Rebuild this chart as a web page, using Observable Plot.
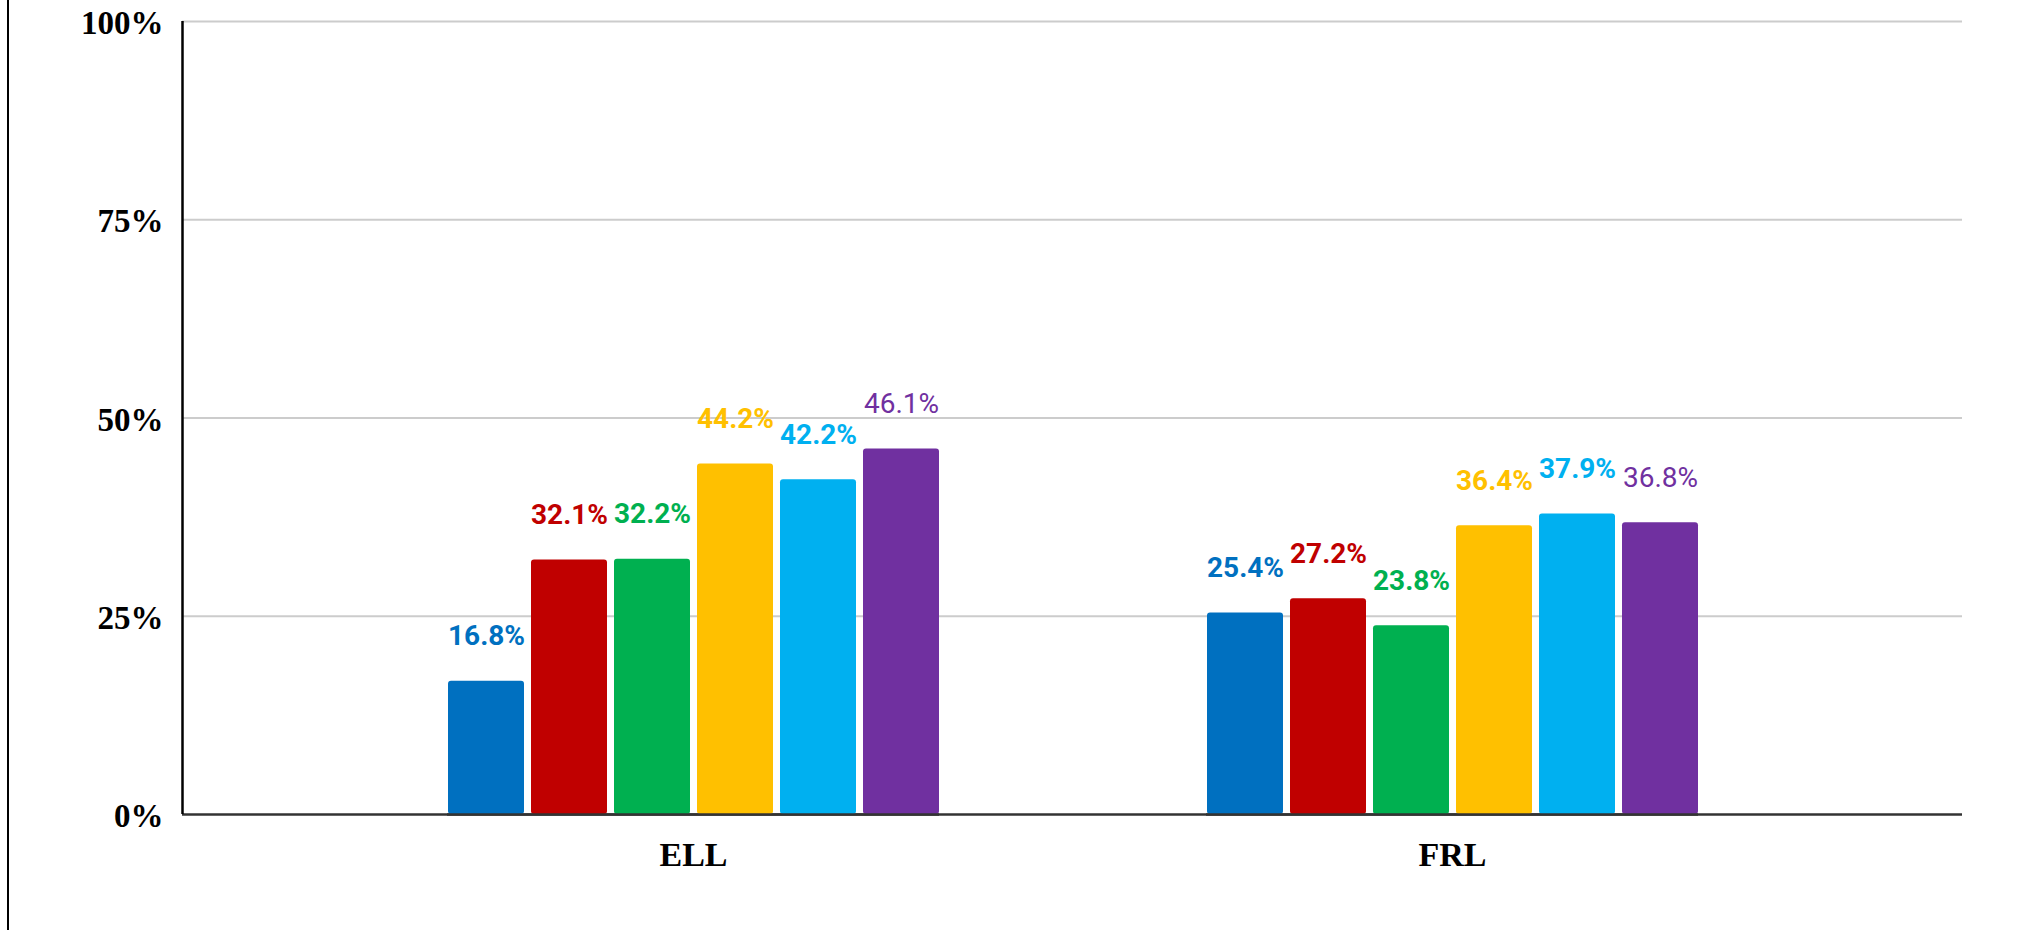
<!DOCTYPE html>
<html>
<head>
<meta charset="utf-8">
<script src="https://cdn.jsdelivr.net/npm/d3@7"></script>
<script src="https://cdn.jsdelivr.net/npm/@observablehq/plot@0.6"></script>
<style>
  html, body { margin: 0; padding: 0; background: #fff; }
  #wrap { position: relative; width: 2023px; height: 930px; overflow: hidden; background: #fff; }
  #wrap svg { position: absolute; left: 0; top: 0; display: block; }
  #edge { position: absolute; left: 7px; top: 0; width: 2px; height: 930px; background: #000; }
</style>
</head>
<body>
<div id="wrap"><div id="edge"></div></div>
<script>
const groups = ["ELL", "FRL"];
const series = ["Series 1", "Series 2", "Series 3", "Series 4", "Series 5", "Series 6"];
const seriesColors = ["#0070c0", "#c00000", "#00b050", "#ffc000", "#00b0f0", "#7030a0"];
const ellValues = [0.168, 0.321, 0.322, 0.442, 0.422, 0.461];
const frlValues = [0.254, 0.272, 0.238, 0.364, 0.379, 0.368];
const yTicks = [0, 0.25, 0.5, 0.75, 1];
const yTickLabels = ["0%", "25%", "50%", "75%", "100%"];

const valuesByGroup = {ELL: ellValues, FRL: frlValues};
const data = groups.flatMap(g => series.map((s, i) => ({group: g, series: s, value: valuesByGroup[g][i]})));
const lightSeries = series[5];
const fmt = d => (d.value * 100).toFixed(1) + "%";

const dims = {width: 2023, height: 930, marginLeft: 182, marginRight: 61, marginTop: 21, marginBottom: 116};

// Base layer: gridlines, y axis line and tick labels across the whole frame
const base = Plot.plot({
  ...dims,
  style: {background: "transparent", overflow: "visible"},
  x: {domain: [0, 1], axis: null},
  y: {domain: [0, 1], axis: null},
  marks: [
    Plot.ruleY(yTicks.slice(1), {stroke: "#cccccc", strokeWidth: 2}),
    Plot.ruleY([0], {stroke: "#333333", strokeWidth: 2.5}),
    Plot.ruleX([0], {y1: 0, y2: 1, stroke: "#000", strokeWidth: 2.5}),
    Plot.text(yTicks, {
      y: d => d, text: (d, i) => yTickLabels[i],
      frameAnchor: "left", textAnchor: "end", lineAnchor: "middle", dx: -19, dy: 2,
      fontSize: 33, fontWeight: "bold", fontFamily: "Liberation Serif", fill: "#000"
    })
  ]
});

const labelOpts = {
  fx: "group", x: "series", y: "value", text: fmt, fill: "series",
  dy: -45, lineAnchor: "middle", textAnchor: "middle",
  fontSize: 28, fontFamily: "Roboto"
};

// Bar layer: grouped bars faceted by category
const bars = Plot.plot({
  ...dims,
  style: {background: "transparent", overflow: "visible"},
  fx: {domain: groups, paddingInner: 0.3518, paddingOuter: 0.3484, label: null},
  x: {domain: series, paddingInner: 0.0865, paddingOuter: 0, axis: null},
  y: {domain: [0, 1], axis: null},
  color: {domain: series, range: seriesColors},
  marks: [
    Plot.barY(data, {fx: "group", x: "series", y: "value", fill: "series", rx: 3}),
    Plot.ruleY([0], {stroke: "#333333", strokeWidth: 2.5}),
    Plot.axisFx({
      anchor: "bottom", label: null, tickSize: 0, tickPadding: 27,
      fontSize: 34, fontWeight: "bold", fontFamily: "Liberation Serif", fill: "#000"
    }),
    Plot.text(data.filter(d => d.series !== lightSeries), {...labelOpts, fontWeight: "bold"}),
    Plot.text(data.filter(d => d.series === lightSeries), {...labelOpts, fontWeight: "normal"})
  ]
});

const wrap = document.getElementById("wrap");
wrap.appendChild(base);
wrap.appendChild(bars);
</script>
</body>
</html>
